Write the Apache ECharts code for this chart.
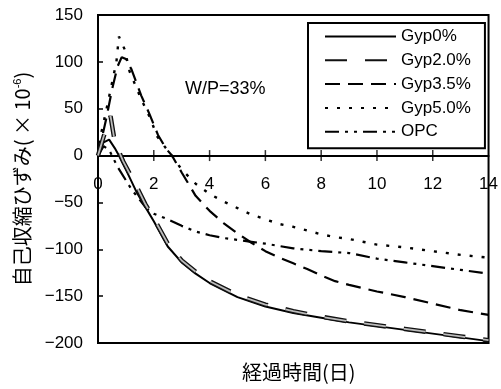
<!DOCTYPE html>
<html>
<head>
<meta charset="utf-8">
<script src="https://cdn.jsdelivr.net/npm/echarts@6/dist/echarts.min.js"></script>
<style>
  html, body { margin: 0; padding: 0; background: #fff; }
  #chart { width: 501px; height: 389px; }
</style>
</head>
<body>
<div id="chart"></div>
<script>
// Autogenous shrinkage strain vs. elapsed time, W/P = 33%
const xTicks = [0, 2, 4, 6, 8, 10, 12, 14];
const yTicks = [-200, -150, -100, -50, 0, 50, 100, 150];

const gyp0Days = [0, 0.2, 0.4, 0.6, 0.75, 1.0, 1.4, 1.7, 2.0, 2.5, 3.0, 3.5, 4, 5, 6, 7, 8, 9, 10, 11, 12, 13, 14];
const gyp0Vals = [0, 14, 17, 8, 0, -15, -40, -55, -70, -97, -114, -126, -136, -151, -161, -168, -173, -178, -182, -186, -190, -194, -198];

const gyp20Days = [0, 0.2, 0.45, 0.6, 0.9, 1.4, 1.7, 2.0, 2.5, 3.0, 3.5, 4, 5, 6, 7, 8, 9, 10, 11, 12, 13, 14];
const gyp20Vals = [0, 20, 42, 15, -6, -34, -52, -67, -94, -112, -124, -134, -149, -159, -166, -172, -177, -181, -185, -189, -193, -197];

const gyp35Days = [0, 0.15, 0.3, 0.5, 0.7, 0.85, 1.0, 1.2, 1.55, 1.85, 2.15, 2.45, 2.65, 3.0, 3.5, 4, 4.5, 5, 5.5, 6, 6.5, 7, 7.5, 8, 8.5, 9, 10, 11, 12, 13, 14];
const gyp35Vals = [0, 20, 40, 70, 95, 105, 103, 92, 64, 44, 22, 7, 0, -18, -43, -59, -72, -83, -93, -102, -109, -115, -121, -128, -134, -138, -145, -151, -158, -165, -170];

const gyp50Days = [0, 0.13, 0.3, 0.54, 0.66, 0.75, 0.96, 1.13, 1.55, 1.84, 2.13, 2.43, 2.65, 3.0, 3.5, 4, 4.5, 5, 5.5, 6, 6.5, 7, 7.5, 8, 8.5, 9, 10, 11, 12, 13, 14];
const gyp50Vals = [0, 26, 49, 83, 100, 127, 113, 90, 60, 42, 20, 8, 0, -15, -30, -41, -49, -56, -63, -68, -73, -76, -80, -84, -87, -89, -95, -98, -102, -106, -109];

const opcDays = [0, 0.2, 0.4, 0.7, 1.2, 1.7, 2.0, 2.5, 3.0, 3.5, 4, 4.5, 5, 5.5, 6, 7, 8, 9, 10, 11, 12, 13, 14];
const opcVals = [0, 10, 6, -12, -36, -55, -62, -68, -75, -81, -85, -88, -90, -92, -94, -99, -102, -104, -110, -114, -118, -122, -126];

const seriesNames = ['Gyp0%', 'Gyp2.0%', 'Gyp3.5%', 'Gyp5.0%', 'OPC'];

function pairs(days, vals) {
  return days.map((d, i) => [d, vals[i]]);
}

const FONT = '"Liberation Sans", Arial, "Noto Sans CJK JP", sans-serif';
const JP = '"Noto Sans CJK JP", "Liberation Sans", sans-serif';

// tick labels use a true minus sign
const minusFmt = v => String(v).replace('-', '\u2212');

const chart = echarts.init(document.getElementById('chart'), null, { renderer: 'canvas' });

function lineSeries(name, data, style, z) {
  return {
    name: name,
    type: 'line',
    data: data,
    symbol: 'none',
    smooth: false,
    silent: true,
    z: z || 2,
    lineStyle: Object.assign({ color: '#000', width: 2 }, style),
    itemStyle: { color: '#000' }
  };
}

const option = {
  backgroundColor: '#fff',
  animation: false,
  textStyle: { fontFamily: FONT },
  grid: {
    left: 98, right: 10, top: 15, bottom: 46,
    show: true, borderColor: '#000', borderWidth: 2, backgroundColor: 'transparent'
  },
  legend: {
    data: seriesNames,
    orient: 'vertical',
    left: 308, top: 23,
    padding: [5, 14, 8, 16],
    itemGap: 6.8,
    itemWidth: 71,
    itemHeight: 14,
    borderColor: '#000',
    borderWidth: 2,
    backgroundColor: '#fff',
    itemStyle: { color: 'transparent', borderColor: 'transparent', borderWidth: 0, opacity: 0 },
    textStyle: { fontFamily: FONT, fontSize: 17, color: '#000' }
  },
  xAxis: {
    type: 'value',
    min: xTicks[0], max: xTicks[xTicks.length - 1], interval: 2,
    axisLine: { onZero: true, lineStyle: { color: '#000', width: 2 } },
    axisTick: { show: false },
    // labels sit just below the zero line
    axisLabel: { margin: -167, fontSize: 17, color: '#000', fontFamily: FONT, showMinLabel: true, showMaxLabel: true },
    splitLine: { show: false }
  },
  yAxis: {
    type: 'value',
    min: yTicks[0], max: yTicks[yTicks.length - 1], interval: 50,
    axisLine: { show: true, onZero: false, lineStyle: { color: '#000', width: 2 } },
    axisTick: { show: true, inside: true, length: 5, lineStyle: { color: '#000', width: 1.5 } },
    axisLabel: { margin: 15, fontSize: 17, color: '#000', fontFamily: FONT, formatter: minusFmt },
    splitLine: { show: false },
    name: '{a|自己収縮ひずみ( × 10}{s|-6}{a|)}',
    nameLocation: 'middle',
    nameRotate: 90,
    nameGap: 66,
    nameTextStyle: {
      color: '#000',
      rich: {
        a: { fontFamily: JP, fontSize: 20, color: '#000' },
        s: { fontFamily: FONT, fontSize: 11, color: '#000', verticalAlign: 'top', padding: [0, 0, 8, 0] }
      }
    }
  },
  graphic: [
    {
      type: 'text', left: 185, top: 80,
      style: { text: 'W/P=33%', font: '18px ' + FONT, fill: '#000' }
    },
    {
      type: 'text', left: 242, top: 362,
      style: { text: '経過時間(日)', font: '20px ' + JP, fill: '#000' }
    }
  ],
  series: [
    lineSeries('Gyp0%', pairs(gyp0Days, gyp0Vals), { width: 2 }, 3),
    lineSeries('Gyp2.0%', pairs(gyp20Days, gyp20Vals), { width: 4.5, type: [22, 18], color: '#111' }, 4),
    // lighter core drawn over the Gyp2.0% band
    lineSeries('Gyp2.0% core', pairs(gyp20Days, gyp20Vals), { width: 1.8, type: [22, 18], color: '#bbb' }, 5),
    lineSeries('Gyp3.5%', pairs(gyp35Days, gyp35Vals), { width: 2.2, type: [15, 8] }, 3),
    lineSeries('Gyp5.0%', pairs(gyp50Days, gyp50Vals), { width: 2.4, type: [3, 9] }, 3),
    lineSeries('OPC', pairs(opcDays, opcVals), { width: 2.2, type: [14, 6, 3, 6, 3, 6] }, 3),
    {
      // tick marks crossing the zero line
      name: 'x ticks',
      type: 'scatter',
      data: xTicks.slice(1, -1).map(t => [t, 0]),
      symbol: 'rect',
      symbolSize: [1.5, 11],
      itemStyle: { color: '#000' },
      silent: true,
      z: 6
    }
  ]
};

chart.setOption(option);
</script>
</body>
</html>
